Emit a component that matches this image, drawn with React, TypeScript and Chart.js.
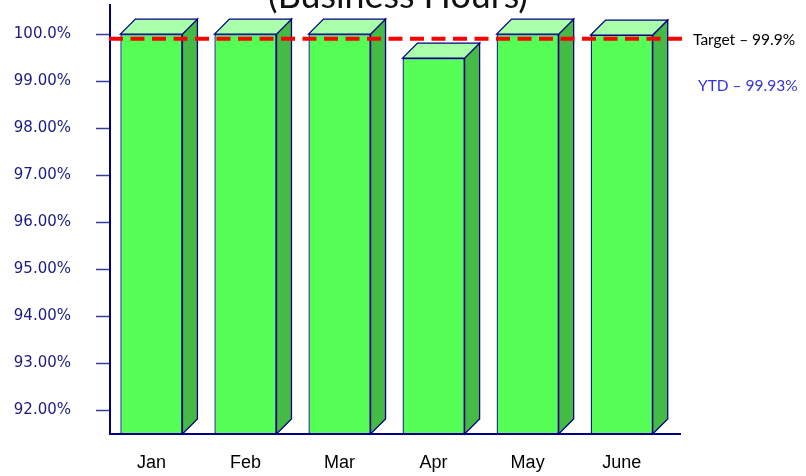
import React, { useEffect, useRef } from "react";
import { Chart, registerables } from "chart.js";

Chart.register(...registerables);

const MONTHS = ["Jan", "Feb", "Mar", "Apr", "May", "June"];
const UPTIME = [100, 100, 100, 99.49, 100, 99.98];
const TARGET = 99.9;
const TITLE = "(Business Hours)";
const TARGET_LABEL = "Target – 99.9%";
const YTD_LABEL = "YTD – 99.93%";
const Y_MIN = 91.49;
const Y_MAX = 100.62;

const DEPTH = 15;
const NAVY = "#000080";

const bar3d = {
  id: "bar3d",
  beforeDatasetsDraw(chart: any) {
    const ctx = chart.ctx;
    const meta = chart.getDatasetMeta(0);
    const bottom = chart.chartArea.bottom;
    ctx.save();
    ctx.lineWidth = 1.3;
    ctx.strokeStyle = NAVY;
    ctx.lineJoin = "miter";
    meta.data.forEach((el: any) => {
      const { x, y, base, width } = el.getProps(["x", "y", "base", "width"], true);
      const b = Math.min(base, bottom);
      const l = x - width / 2;
      const r = x + width / 2;
      ctx.beginPath();
      ctx.moveTo(r, y);
      ctx.lineTo(r + DEPTH, y - DEPTH);
      ctx.lineTo(r + DEPTH, b - DEPTH);
      ctx.lineTo(r, b);
      ctx.closePath();
      ctx.fillStyle = "#44bb44";
      ctx.fill();
      ctx.stroke();
      ctx.beginPath();
      ctx.moveTo(l, y);
      ctx.lineTo(l + DEPTH, y - DEPTH);
      ctx.lineTo(r + DEPTH, y - DEPTH);
      ctx.lineTo(r, y);
      ctx.closePath();
      ctx.fillStyle = "#aaffaa";
      ctx.fill();
      ctx.stroke();
    });
    ctx.restore();
  },
  afterDatasetsDraw(chart: any) {
    const ctx = chart.ctx;
    const { left, right } = chart.chartArea;
    const yPix = chart.scales.y.getPixelForValue(TARGET);
    ctx.save();
    ctx.strokeStyle = "#ff0000";
    ctx.lineWidth = 4;
    ctx.setLineDash([14, 7.5]);
    ctx.beginPath();
    ctx.moveTo(left - 1, yPix);
    ctx.lineTo(right + 6, yPix);
    ctx.stroke();
    ctx.restore();
  },
  afterDraw(chart: any) {
    const ctx = chart.ctx;
    const { right } = chart.chartArea;
    const yPix = chart.scales.y.getPixelForValue(TARGET);
    ctx.save();
    ctx.fillStyle = "#111111";
    ctx.textAlign = "center";
    ctx.textBaseline = "alphabetic";
    ctx.font = "36px Lato";
    const w = ctx.measureText(TITLE).width;
    const size = (36 * 260) / w;
    ctx.font = `${size}px Lato`;
    ctx.fillText(TITLE, 398, 8);
    ctx.textAlign = "left";
    ctx.font = "15.5px Lato";
    ctx.fillStyle = "#000000";
    ctx.fillText(TARGET_LABEL, right + 13, yPix + 6);
    ctx.fillStyle = "#3333dd";
    ctx.fillText(YTD_LABEL, right + 18, yPix + 52);
    ctx.restore();
  },
};

export default function App() {
  const ref = useRef<HTMLCanvasElement | null>(null);

  useEffect(() => {
    if (!ref.current) return;
    const chart = new Chart(ref.current, {
      type: "bar",
      data: {
        datasets: [
          {
            data: UPTIME.map((v, i) => ({ x: i, y: v })),
            backgroundColor: "#55ff55",
            borderColor: NAVY,
            borderWidth: 1.3,
            borderSkipped: false,
            barPercentage: 0.66,
            categoryPercentage: 1,
            base: Y_MIN,
          } as any,
        ],
      },
      options: {
        responsive: false,
        animation: false,
        devicePixelRatio: 1,
        layout: { autoPadding: false, padding: { top: 5, right: 126, left: 0, bottom: 0 } },
        plugins: { legend: { display: false }, tooltip: { enabled: false }, title: { display: false } },
        scales: {
          x: {
            type: "linear",
            offset: false,
            min: -0.44,
            max: 5.62,
            afterFit: (s: any) => {
              s.height = 42;
              s.paddingLeft = 0;
              s.paddingRight = 0;
            },
            grid: { display: true, offset: false, drawOnChartArea: false, drawTicks: false },
            border: { display: true, color: NAVY, width: 2 },
            ticks: {
              stepSize: 1,
              includeBounds: false,
              autoSkip: false,
              maxRotation: 0,
              padding: 18,
              color: "#000000",
              font: { family: "Liberation Sans", size: 18 },
              callback: (v: any) => MONTHS[v] ?? "",
            },
          },
          y: {
            min: Y_MIN,
            max: Y_MAX,
            beginAtZero: false,
            afterFit: (s: any) => {
              s.width = 110;
              s.paddingTop = 0;
              s.paddingBottom = 0;
            },
            grid: {
              display: true,
              drawOnChartArea: false,
              drawTicks: true,
              tickLength: 14,
              tickColor: "#3a3a9a",
              tickWidth: 1.5,
            },
            border: { display: true, color: NAVY, width: 2 },
            ticks: {
              stepSize: 1,
              includeBounds: false,
              padding: 25,
              color: "#1a1a80",
              font: { family: "DejaVu Sans", size: 15 },
              callback: (v: any) => (v === 100 ? "100.0%" : Number(v).toFixed(2) + "%"),
            },
          },
        },
      },
      plugins: [bar3d],
    } as any);
    return () => chart.destroy();
  }, []);

  return (
    <div style={{ position: "absolute", left: 0, top: 0, width: 806, height: 476, background: "#ffffff" }}>
      <canvas ref={ref} width={806} height={476} style={{ display: "block", width: 806, height: 476 }} />
    </div>
  );
}
